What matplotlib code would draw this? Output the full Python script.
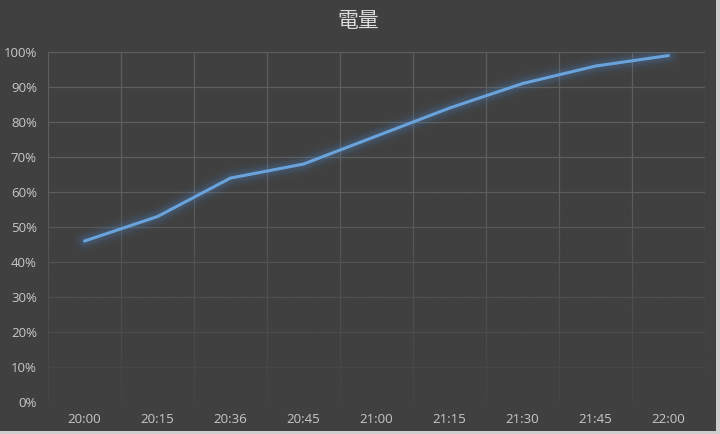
import numpy as np
import matplotlib
matplotlib.use("Agg")
import matplotlib.pyplot as plt
from matplotlib.patches import Rectangle
from matplotlib.ticker import FuncFormatter

plt.rcParams['font.family'] = ['Noto Sans CJK TC', 'DejaVu Sans']

# data
times = ["20:00", "20:15", "20:36", "20:45", "21:00", "21:15", "21:30", "21:45", "22:00"]
charge = [46, 53, 64, 68, 76, 84, 91, 96, 99]  # percent
y_ticks = [0, 10, 20, 30, 40, 50, 60, 70, 80, 90, 100]

bg = "#404040"
grid_col = "#5e5e5e"
line_col = "#6aa3dc"

fig = plt.figure(figsize=(7.2, 4.34), dpi=100, facecolor=bg)
ax = fig.add_axes([0.0667, 0.0737, 0.9123, 0.8063])
ax.set_facecolor(bg)

xs = np.arange(len(times))

# glow around the line
for lw, a in [(16, 0.03), (12, 0.05), (9, 0.08), (6, 0.13)]:
    ax.plot(xs, charge, color="#4f8fd0", lw=lw, alpha=a, solid_capstyle="round",
            solid_joinstyle="round", zorder=4)
ax.plot(xs, charge, color=line_col, lw=2.2, solid_capstyle="round", solid_joinstyle="round", zorder=5)

# gridlines: vertical at category boundaries, horizontal at y ticks
for b in np.arange(-0.5, len(times)):
    ax.axvline(b, color=grid_col, lw=0.9, zorder=1)
for yv in y_ticks[1:]:
    ax.axhline(yv, color=grid_col, lw=0.9, zorder=1)

# fade the grid towards the bottom
fade = np.zeros((256, 1, 4))
fade[..., :3] = matplotlib.colors.to_rgb(bg)
t = np.linspace(0, 1, 256)  # 0 = bottom, 1 = top
fade[:, 0, 3] = np.clip(1.0 - t / 0.6, 0, 1) ** 0.8 * 0.85
ax.imshow(fade, extent=[0, 1, 0, 1], transform=ax.transAxes, origin="lower",
          aspect="auto", zorder=2, interpolation="bilinear")
ax.set_xlim(-0.5, len(times) - 0.5)
ax.set_ylim(0, 100)

ax.set_xticks(xs)
ax.set_xticklabels(times)
ax.set_yticks(y_ticks)
ax.yaxis.set_major_formatter(FuncFormatter(lambda v, p: f"{int(v)}%"))
ax.tick_params(axis="both", length=0, colors="#c8c8c8", labelsize=9.5)
ax.tick_params(axis="x", pad=8)
ax.tick_params(axis="y", pad=8)
for lab in ax.get_xticklabels() + ax.get_yticklabels():
    lab.set_family(['Open Sans', 'DejaVu Sans'])
for s in ax.spines.values():
    s.set_visible(False)

fig.text(0.497, 0.952, "電量", ha="center", va="center", fontsize=15, color="#dcdcdc")

# light frame strips on right and bottom edges
fig.patches.append(Rectangle((0.9945, 0), 0.0055, 1, transform=fig.transFigure,
                             facecolor="#cfcfcf", edgecolor="none"))
fig.patches.append(Rectangle((0, 0), 1, 0.008, transform=fig.transFigure,
                             facecolor="#cfcfcf", edgecolor="none"))

fig.savefig("out.png", dpi=100, facecolor=bg)
